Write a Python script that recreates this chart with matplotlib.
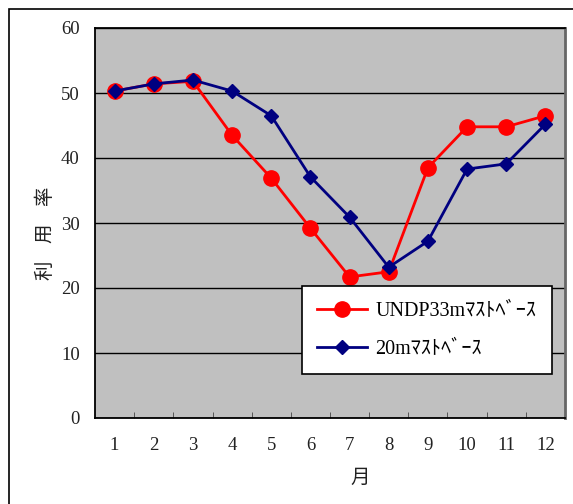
import matplotlib
matplotlib.use("Agg")
import matplotlib.pyplot as plt
from matplotlib.patches import Rectangle

months = ["1", "2", "3", "4", "5", "6", "7", "8", "9", "10", "11", "12"]
undp33 = [50.3, 51.4, 51.8, 43.5, 36.9, 29.2, 21.7, 22.5, 38.5, 44.8, 44.8, 46.5]
mast20 = [50.3, 51.4, 52.0, 50.3, 46.5, 37.1, 30.9, 23.2, 27.2, 38.3, 39.1, 45.2]
label_undp = "UNDP33mﾏｽﾄﾍﾞｰｽ"
label_20 = "20mﾏｽﾄﾍﾞｰｽ"
yticks = [0, 10, 20, 30, 40, 50, 60]

plt.rcParams['font.family'] = ['Liberation Serif', 'Noto Sans CJK JP', 'DejaVu Sans']

W, H = 573, 504
fig = plt.figure(figsize=(W / 100, H / 100), dpi=100)
fig.patches.append(Rectangle((9 / W, -0.01), 1.0, 1 - 9 / H + 0.01, transform=fig.transFigure,
                             fill=False, edgecolor='black', linewidth=1.2, zorder=0))

ax = fig.add_axes([95 / W, 86 / H, 470 / W, 390 / H])
ax.set_facecolor('#c0c0c0')
x = list(range(len(months)))
ax.plot(x, undp33, color='#ff0000', lw=2, marker='o', ms=11, label=label_undp, zorder=3, clip_on=False)
ax.plot(x, mast20, color='#000080', lw=2, marker='D', ms=7.5, label=label_20, zorder=4, clip_on=False)

ax.set_xlim(-0.5, len(months) - 0.5)
ax.set_ylim(0, 60)
ax.set_yticks(yticks)
ax.set_yticklabels([str(v) for v in yticks], fontsize=13.5, color='#222222')
ax.set_xticks(x)
ax.set_xticklabels(months, fontsize=13.5, color='#222222')
ax.tick_params(axis='x', length=0, pad=14)
ax.tick_params(axis='y', length=0, pad=11)
ax.set_xticks([i - 0.5 for i in range(1, len(months))], minor=True)
ax.tick_params(axis='x', which='minor', direction='in', length=4, color='#444444')
ax.grid(axis='y', color='black', lw=1)
ax.set_axisbelow(True)
for s in ['top', 'left', 'bottom']:
    ax.spines[s].set_color('black')
    ax.spines[s].set_linewidth(1.3)
ax.spines['right'].set_color('#666666')
ax.spines['right'].set_linewidth(2)

fig.text(360 / W, 1 - 477 / H, "月", fontsize=14, ha='center', va='center',
         family=['Noto Sans CJK JP'], color='#222222')
fig.text(45 / W, 1 - 233 / H, "利    用    率", fontsize=14, ha='center', va='center', rotation=90,
         family=['Noto Sans CJK JP'], color='#222222')

leg = fig.legend(loc='lower left', bbox_to_anchor=(302 / W, 1 - 374 / H, 250 / W, 80 / H),
                 bbox_transform=fig.transFigure, mode='expand', borderaxespad=0,
                 fontsize=14.5, frameon=True, fancybox=False, edgecolor='black',
                 framealpha=1, handlelength=2.5, handletextpad=0.4, labelspacing=0.95, borderpad=0.75)
leg.get_frame().set_linewidth(1.2)

fig.savefig("out.png", dpi=100)
